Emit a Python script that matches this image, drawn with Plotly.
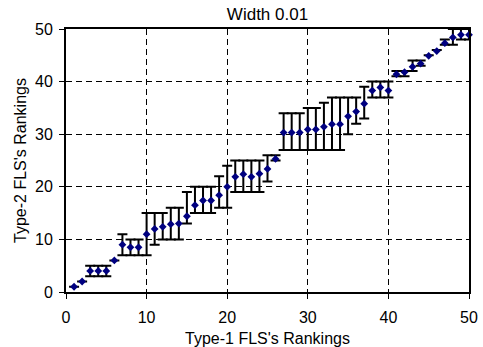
import plotly.graph_objects as go

ranks_type1 = list(range(1, 51))
ranks_type2 = [1, 2, 4, 4, 4, 6, 9, 8.5, 8.5, 11,
               12, 12.4, 12.9, 13, 14.4, 16.5, 17.4, 17.4, 18.4, 20,
               21.9, 22.4, 21.9, 22.5, 23.4, 25.3, 30.3, 30.3, 30.3, 30.9,
               30.9, 31.4, 31.9, 31.9, 33.4, 34.3, 35.8, 38.3, 38.9, 38.3,
               41.4, 41.8, 42.8, 43.4, 44.9, 45.8, 47.3, 48.4, 48.9, 48.9]
lower_rank = [1, 2, 3, 3, 3, 6, 7, 7, 7, 7,
              9, 10, 10, 10, 13, 15, 15, 15, 16, 16,
              19, 19, 19, 19, 21, 25, 27, 27, 27, 27,
              27, 27, 27, 27, 30, 32, 33, 37, 37, 37,
              41, 41, 42, 43, 45, 46, 47, 47, 48, 48]
upper_rank = [1, 2, 5, 5, 5, 6, 11, 10, 10, 15,
              15, 15, 16, 16, 19, 20, 20, 20, 22, 24,
              25, 25, 25, 25, 26, 26, 34, 34, 34, 35,
              35, 36, 37, 37, 37, 37, 39, 40, 40, 40,
              42, 42, 44, 44, 45, 46, 48, 50, 50, 50]
x_ticks = [0, 10, 20, 30, 40, 50]
y_ticks = [0, 10, 20, 30, 40, 50]

err_plus = [u - v for u, v in zip(upper_rank, ranks_type2)]
err_minus = [v - l for v, l in zip(ranks_type2, lower_rank)]

FONT = "Arial, Liberation Sans, sans-serif"

fig = go.Figure()
fig.add_trace(go.Scatter(
    x=ranks_type1, y=ranks_type2, mode="markers",
    marker=dict(symbol="diamond", size=6, color="#000080"),
    error_y=dict(type="data", symmetric=False, array=err_plus, arrayminus=err_minus,
                 color="black", thickness=2, width=5),
    cliponaxis=False, showlegend=False,
))

axis_common = dict(
    showline=True, linecolor="black", linewidth=2, mirror=True,
    showgrid=True, gridcolor="black", gridwidth=1, griddash="6px,4px",
    zeroline=False, ticks="outside", ticklen=5, tickwidth=1, tickcolor="black",
    tickfont=dict(family=FONT, size=16, color="black"), automargin=False,
)

fig.update_xaxes(range=[0, 50], tickvals=x_ticks, ticklabelstandoff=5,
                 title=dict(text="Type-1 FLS's Rankings", font=dict(family=FONT, size=16, color="black"), standoff=8),
                 **axis_common)
fig.update_yaxes(range=[0, 50], tickvals=y_ticks, ticklabelstandoff=3,
                 title=dict(text="Type-2 FLS's Rankings", font=dict(family=FONT, size=16, color="black"), standoff=4),
                 **axis_common)

fig.update_layout(
    width=483, height=347,
    margin=dict(l=66, r=14, t=29, b=55),
    paper_bgcolor="white", plot_bgcolor="white",
    title=dict(text="Width 0.01", x=0.5, xref="paper", y=0.96, yref="container", yanchor="middle",
               font=dict(family=FONT, size=17, color="black")),
)

fig.write_html("out.html")
